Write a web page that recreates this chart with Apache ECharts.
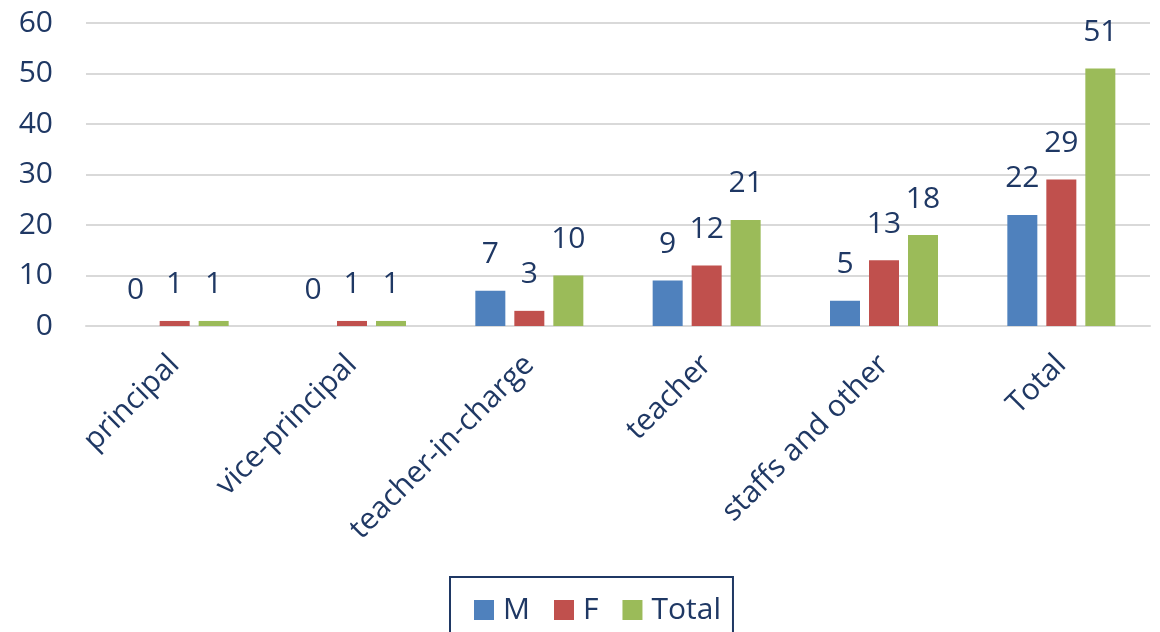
<!DOCTYPE html>
<html>
<head>
<meta charset="utf-8">
<script src="https://cdn.jsdelivr.net/npm/echarts@6/dist/echarts.min.js"></script>
<style>
  html, body { margin: 0; padding: 0; background: #fff; }
  #chart { width: 1160px; height: 632px; }
</style>
</head>
<body>
<div id="chart"></div>
<script>
const categories = ['principal', 'vice-principal', 'teacher-in-charge', 'teacher', 'staffs and other', 'Total']
const maleValues = [0, 0, 7, 9, 5, 22]
const femaleValues = [1, 1, 3, 12, 13, 29]
const totalValues = [1, 1, 10, 21, 18, 51]

const textColor = '#1f3864'
const fontFamily = '"Open Sans", "Noto Sans", sans-serif'
const colors = ['#4f81bd', '#c0504d', '#9bbb59']

const chart = echarts.init(document.getElementById('chart'))

const barLabel = {
  show: true,
  position: 'top',
  distance: 21,
  color: textColor,
  fontSize: 30,
  fontFamily: fontFamily
}

function makeSeries(name, data, idx) {
  return {
    name: name,
    type: 'bar',
    data: data,
    barWidth: 30,
    barGap: '30%',
    itemStyle: { color: colors[idx] },
    label: barLabel
  }
}

chart.setOption({
  animation: false,
  textStyle: { fontFamily: fontFamily },
  grid: { left: 86, right: 10, top: 23, bottom: 306 },
  legend: {
    left: 450,
    top: 577,
    padding: [18, 12, 24, 24],
    borderColor: textColor,
    borderWidth: 2,
    itemWidth: 20,
    itemHeight: 20,
    itemGap: 24,
    icon: 'rect',
    textStyle: {
      color: textColor,
      fontSize: 30,
      fontFamily: fontFamily,
      padding: [0, 0, 0, 4]
    },
    data: ['M', 'F', 'Total']
  },
  xAxis: {
    type: 'category',
    data: categories,
    axisLine: { lineStyle: { color: '#d9d9d9', width: 2 } },
    axisTick: { show: false },
    axisLabel: {
      rotate: 45,
      margin: 34,
      interval: 0,
      color: textColor,
      fontSize: 30,
      fontFamily: fontFamily
    }
  },
  yAxis: {
    type: 'value',
    min: 0,
    max: 60,
    interval: 10,
    axisLine: { show: false },
    axisTick: { show: false },
    splitLine: { lineStyle: { color: '#d9d9d9', width: 2 } },
    axisLabel: {
      margin: 33,
      color: textColor,
      fontSize: 30,
      fontFamily: fontFamily
    }
  },
  series: [
    makeSeries('M', maleValues, 0),
    makeSeries('F', femaleValues, 1),
    makeSeries('Total', totalValues, 2)
  ]
})
</script>
</body>
</html>
